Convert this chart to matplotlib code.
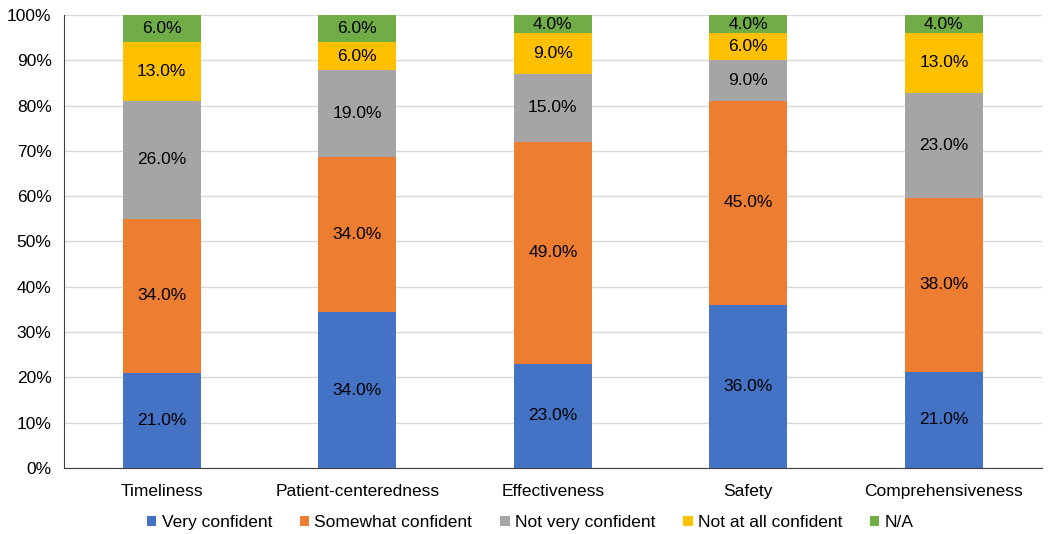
import numpy as np
import matplotlib.pyplot as plt
from matplotlib.ticker import PercentFormatter

plt.rcParams['font.family'] = ['Liberation Sans', 'DejaVu Sans']

categories = ["Timeliness", "Patient-centeredness", "Effectiveness", "Safety", "Comprehensiveness"]
series_names = ["Very confident", "Somewhat confident", "Not very confident", "Not at all confident", "N/A"]
very = [21, 34, 23, 36, 21]
somewhat = [34, 34, 49, 45, 38]
not_very = [26, 19, 15, 9, 23]
not_at_all = [13, 6, 9, 6, 13]
na = [6, 6, 4, 4, 4]
colors = ["#4472C4", "#ED7D31", "#A5A5A5", "#FFC000", "#70AD47"]

data = np.array([very, somewhat, not_very, not_at_all, na], dtype=float)
totals = data.sum(axis=0)
shares = data / totals * 100  # 100% stacked

fig = plt.figure(figsize=(10.5, 5.34), dpi=100)
ax = fig.add_axes([0.061, 0.124, 0.931, 0.848])

x = np.arange(len(categories))
bottom = np.zeros(len(categories))
for i, name in enumerate(series_names):
    bars = ax.bar(x, shares[i], 0.4, bottom=bottom, color=colors[i], label=name, zorder=3)
    for j, b in enumerate(bars):
        ax.text(b.get_x() + b.get_width() / 2, bottom[j] + shares[i][j] / 2,
                f"{data[i][j]:.1f}%", ha="center", va="center", fontsize=12.5, color="black", zorder=4)
    bottom += shares[i]

ax.set_xlim(-0.5, len(categories) - 0.5)
ax.set_ylim(0, 100)
ax.set_yticks(np.arange(0, 101, 10))
ax.yaxis.set_major_formatter(PercentFormatter(decimals=0))
ax.set_xticks(x)
ax.set_xticklabels(categories)
ax.tick_params(axis="both", labelsize=12.5, length=0, colors="black")
ax.tick_params(axis="x", pad=12)
ax.tick_params(axis="y", pad=9)
ax.grid(axis="y", color="#D9D9D9", linewidth=1, zorder=0)
for s in ["top", "right"]:
    ax.spines[s].set_visible(False)
ax.spines["bottom"].set_color("#404040")
ax.spines["left"].set_color("#404040")

fig.legend(loc="lower center", bbox_to_anchor=(0.505, -0.022), ncol=5, frameon=False,
           fontsize=12.5, handlelength=0.55, handleheight=0.55, columnspacing=1.6, handletextpad=0.3)

plt.savefig("out.png")
plt.close()
